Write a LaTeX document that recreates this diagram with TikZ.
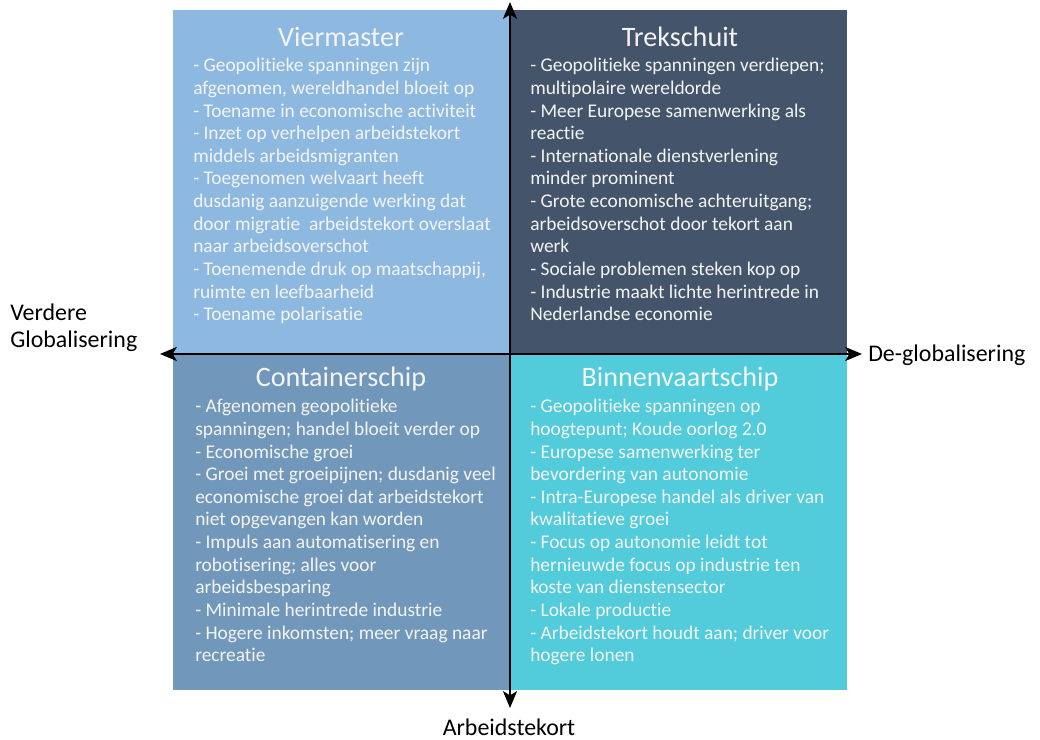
\documentclass[tikz,border=0pt]{standalone}
\usepackage{fontspec}
\setmainfont{Carlito}[Ligatures=NoCommon]
\usepackage{tikz}
\usetikzlibrary{arrows.meta}
\definecolor{viercol}{HTML}{8DB9E0}
\definecolor{trekcol}{HTML}{44546A}
\definecolor{contcol}{HTML}{7198BA}
\definecolor{binncol}{HTML}{52CCDB}
\definecolor{tekstcol}{HTML}{F4F4F4}
\tikzstyle{arrow} = [line width=1.4pt,{Stealth[length=12pt,width=10pt,inset=3pt]}-{Stealth[length=12pt,width=10pt,inset=3pt]}]
\tikzstyle{kwadrant} = [draw=none, rectangle, anchor=north west, inner sep=0pt, minimum width=8.425cm]
\tikzstyle{titel} = [anchor=base, inner sep=0pt, text=tekstcol, font=\fontsize{20}{24}\selectfont]
\tikzstyle{punten} = [anchor=north west, inner sep=0pt, align=left, text=tekstcol, font=\fontsize{13.8}{16.1}\selectfont]
\tikzstyle{aslabel} = [inner sep=0pt, text=black, font=\fontsize{17}{19.4}\selectfont]

\begin{document}
\begin{tikzpicture}[x=0.025cm, y=-0.025cm]
        \useasboundingbox (0,0) rectangle (1040,740);
        % Quadrants
        \node[kwadrant, fill=viercol, minimum height=8.6cm] (vier) at (173,10) {};
        \node[kwadrant, fill=trekcol, minimum height=8.6cm] (trek) at (510,10) {};
        \node[kwadrant, fill=contcol, minimum height=8.4cm] (cont) at (173,354) {};
        \node[kwadrant, fill=binncol, minimum height=8.4cm] (binn) at (510,354) {};

        % Titles
        \node[titel] (viertitel) at (341,47) {Viermaster};
        \node[titel] (trektitel) at (680,47) {Trekschuit};
        \node[titel] (conttitel) at (341,387) {Containerschip};
        \node[titel] (binntitel) at (680,387) {Binnenvaartschip};

        % Scenario texts
        \node[punten] (viertekst) at (193,58) {- Geopolitieke spanningen zijn\\
          afgenomen, wereldhandel bloeit op\\
          - Toename in economische activiteit\\
          - Inzet op verhelpen arbeidstekort\\
          middels arbeidsmigranten\\
          - Toegenomen welvaart heeft\\
          dusdanig aanzuigende werking dat\\
          door migratie\ \ arbeidstekort overslaat\\
          naar arbeidsoverschot\\
          - Toenemende druk op maatschappij,\\
          ruimte en leefbaarheid\\
          - Toename polarisatie};
        \node[punten] (trektekst) at (530,58) {- Geopolitieke spanningen verdiepen;\\
          multipolaire wereldorde\\
          - Meer Europese samenwerking als\\
          reactie\\
          - Internationale dienstverlening\\
          minder prominent\\
          - Grote economische achteruitgang;\\
          arbeidsoverschot door tekort aan\\
          werk\\
          - Sociale problemen steken kop op\\
          - Industrie maakt lichte herintrede in\\
          Nederlandse economie};
        \node[punten] (conttekst) at (195,399) {- Afgenomen geopolitieke\\
          spanningen; handel bloeit verder op\\
          - Economische groei\\
          - Groei met groeipijnen; dusdanig veel\\
          economische groei dat arbeidstekort\\
          niet opgevangen kan worden\\
          - Impuls aan automatisering en\\
          robotisering; alles voor\\
          arbeidsbesparing\\
          - Minimale herintrede industrie\\
          - Hogere inkomsten; meer vraag naar\\
          recreatie};
        \node[punten] (binntekst) at (530,399) {- Geopolitieke spanningen op\\
          hoogtepunt; Koude oorlog 2.0\\
          - Europese samenwerking ter\\
          bevordering van autonomie\\
          - Intra-Europese handel als driver van\\
          kwalitatieve groei\\
          - Focus op autonomie leidt tot\\
          hernieuwde focus op industrie ten\\
          koste van dienstensector\\
          - Lokale productie\\
          - Arbeidstekort houdt aan; driver voor\\
          hogere lonen};

        % Axes
        \coordinate (links) at (160,354);
        \coordinate (rechts) at (862,354);
        \coordinate (boven) at (510,2);
        \coordinate (onder) at (510,708);
        \draw[arrow] (links) -- (rechts);
        \draw[arrow] (boven) -- (onder);

        % Axis labels
        \node[aslabel, anchor=base west, align=left] (globaal) at (10,348) {Verdere\\Globalisering};
        \node[aslabel, anchor=base west] (deglobaal) at (868,362) {De-globalisering};
        \node[aslabel, anchor=base] (tekort) at (509,735) {Arbeidstekort};

      \end{tikzpicture}
\end{document}
